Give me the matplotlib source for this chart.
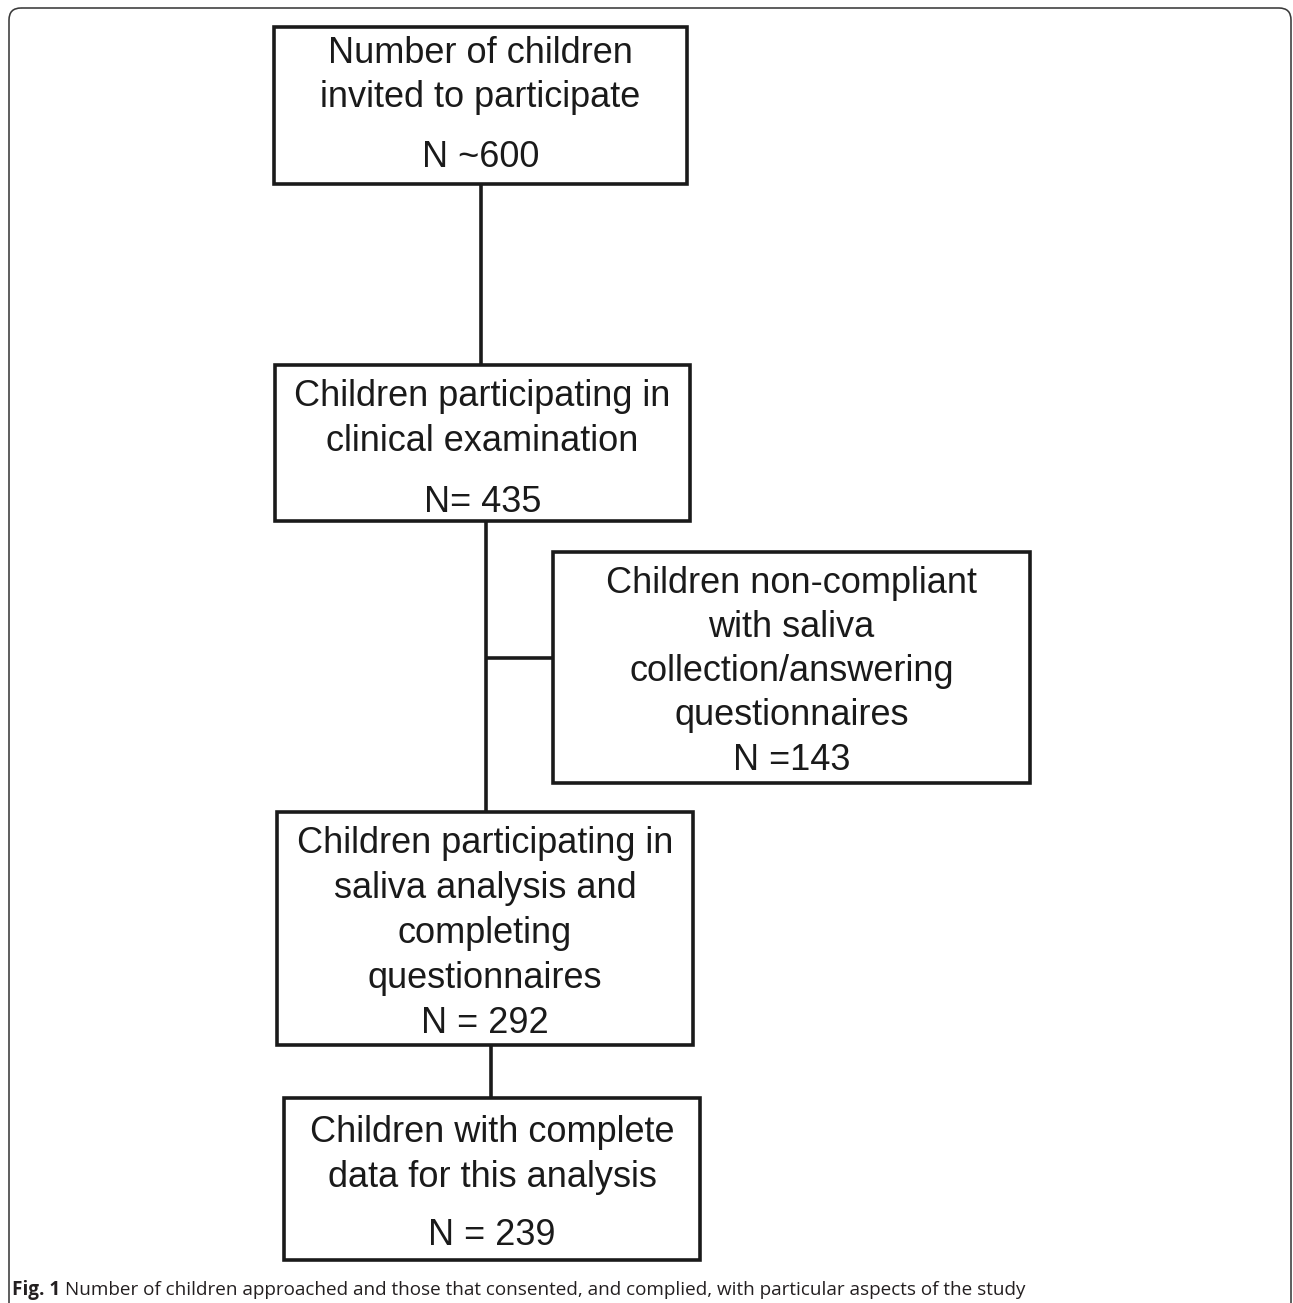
import matplotlib
matplotlib.use("Agg")
import matplotlib.pyplot as plt
from matplotlib.patches import Rectangle, FancyBboxPatch

# ── Flowchart content ──
box_lines = [
    ["Number of children", "invited to participate", "N ~600"],
    ["Children participating in", "clinical examination", "N= 435"],
    ["Children non-compliant", "with saliva", "collection/answering",
     "questionnaires", "N =143"],
    ["Children participating in", "saliva analysis and", "completing",
     "questionnaires", "N = 292"],
    ["Children with complete", "data for this analysis", "N = 239"],
]
caption_bold = "Fig. 1"
caption_text = ("Number of children approached and those that consented, "
                "and complied, with particular aspects of the study")

# ── Layout (pixel coordinates, y downwards) ──
W, H = 1293, 1303
box_rects = [  # left, top, right, bottom
    (274, 27, 687, 184),
    (275, 365, 690, 521),
    (553, 552, 1030, 783),
    (277, 812, 693, 1045),
    (284, 1098, 700, 1260),
]
line_baselines = [
    [63, 107, 167],
    [406, 451, 512],
    [593, 637, 681, 725, 770],
    [853, 898, 943, 988, 1033],
    [1142, 1187, 1245],
]
# connectors: (x0, y0, x1, y1)
connectors = [
    (481, 184, 481, 365),
    (486, 521, 486, 812),
    (486, 658, 553, 658),
    (491, 1045, 491, 1098),
]

INK = "#1a1a1a"
px = 72 / 100  # pixel -> point at dpi 100

fig = plt.figure(figsize=(W / 100, H / 100), dpi=100)
ax = fig.add_axes([0, 0, 1, 1])
ax.set_xlim(0, W)
ax.set_ylim(H, 0)
ax.axis("off")

# outer rounded frame (open at the bottom)
frame = FancyBboxPatch((9, 8), 1282, 1340, boxstyle="round,pad=0,rounding_size=12",
                       linewidth=1.6 * px, edgecolor="#3a3a3a", facecolor="none",
                       clip_on=False, zorder=1)
ax.add_patch(frame)

for x0, y0, x1, y1 in connectors:
    ax.plot([x0, x1], [y0, y1], color=INK, linewidth=3.6 * px,
            solid_capstyle="butt", zorder=2)

for (l, t, r, b), lines, bases in zip(box_rects, box_lines, line_baselines):
    ax.add_patch(Rectangle((l, t), r - l, b - t, linewidth=3.6 * px,
                           edgecolor=INK, facecolor="white", zorder=3))
    cx = (l + r) / 2
    for txt, yb in zip(lines, bases):
        ax.text(cx, yb, txt, ha="center", va="baseline", fontsize=26,
                family="Liberation Sans", color=INK, zorder=4)

# caption
cap_y = 1295
t1 = ax.text(12, cap_y, caption_bold, ha="left", va="baseline", fontsize=13.6,
             family="Open Sans", fontweight="bold", color="#231f20")
fig.canvas.draw()
bb = t1.get_window_extent(renderer=fig.canvas.get_renderer())
x_end = ax.transData.inverted().transform((bb.x1, bb.y0))[0]
ax.text(x_end + 5, cap_y, caption_text, ha="left", va="baseline", fontsize=13.6,
        family="Open Sans", color="#231f20")

fig.savefig("out.png", dpi=100, facecolor="white")
plt.close(fig)
